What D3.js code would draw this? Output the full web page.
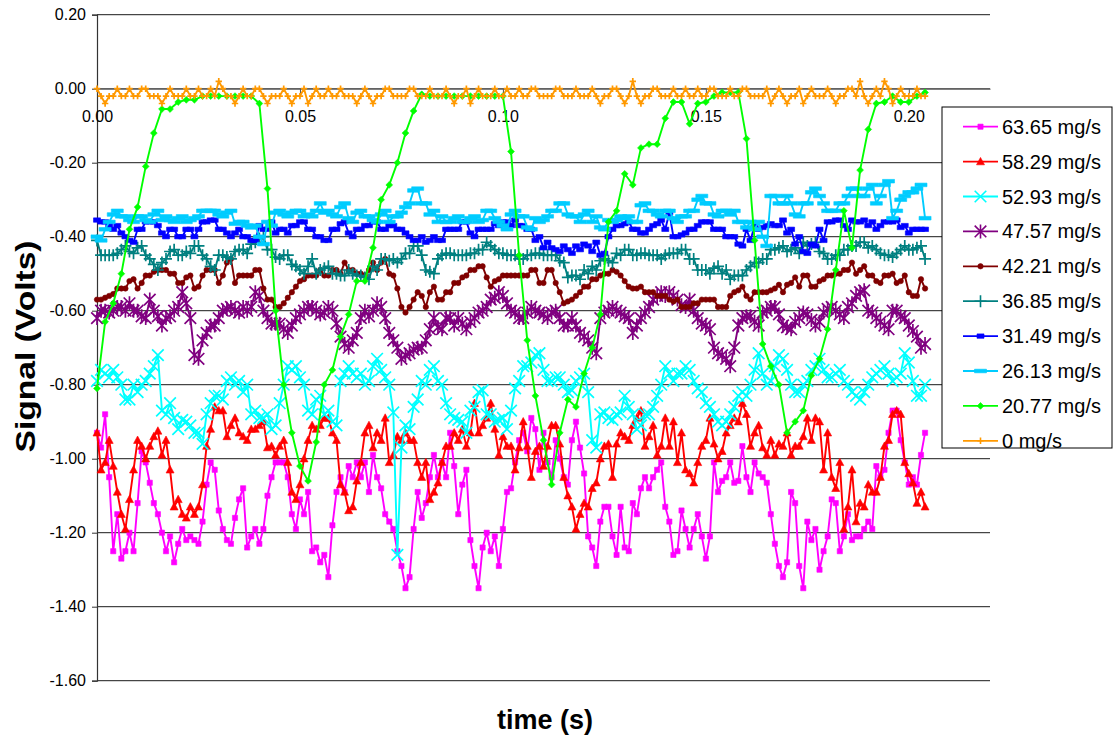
<!DOCTYPE html>
<html>
<head>
<meta charset="utf-8">
<script src="https://cdn.jsdelivr.net/npm/d3@7"></script>
<style>
html,body{margin:0;padding:0;background:#fff;}
svg{display:block;font-family:"Liberation Sans",Arial,sans-serif;}
</style>
</head>
<body>
<svg id="chart" width="1116" height="738"></svg>
<script>
// ---- data ----
const yTicks = [0.2, 0, -0.2, -0.4, -0.6, -0.8, -1.0, -1.2, -1.4, -1.6];
const xTicks = [0, 0.05, 0.10, 0.15, 0.20];
const seriesNames = ["63.65 mg/s","58.29 mg/s","52.93 mg/s","47.57 mg/s","42.21 mg/s","36.85 mg/s","31.49 mg/s","26.13 mg/s","20.77 mg/s","0 mg/s"];
// sampling interval (s) of each series
const seriesSteps = [0.001,0.001,0.001,0.001,0.001,0.001,0.001,0.001,0.002,0.001];

const s6365 = [-0.93,-0.97,-0.88,-1.05,-1.25,-1.15,-1.27,-1.25,-1.20,-1.25,
-1.12,-0.98,-1.01,-1.065,-1.12,-1.15,-1.20,-1.25,-1.21,-1.28,
-1.23,-1.19,-1.22,-1.21,-1.22,-1.23,-1.17,-1.07,-1.01,-1.03,
-1.14,-1.19,-1.22,-1.23,-1.16,-1.11,-1.08,-1.24,-1.21,-1.19,
-1.23,-1.19,-1.10,-1.05,-1.01,-1.01,-1.01,-1.05,-1.15,-1.19,
-1.11,-1.15,-1.09,-1.25,-1.24,-1.28,-1.26,-1.32,-1.18,-1.09,
-1.05,-1.09,-1.02,-1.05,-1.01,-1.05,-1.01,-1.09,-0.99,-1.05,
-1.08,-1.15,-1.17,-1.19,-1.25,-1.29,-1.35,-1.32,-1.19,-1.09,
-1.16,-1.12,-1.05,-0.99,-1.05,-1.01,-1.05,-0.93,-1.02,-1.15,
-1.07,-1.03,-1.22,-1.29,-1.35,-1.24,-1.20,-1.25,-1.21,-1.29,
-1.19,-1.09,-1.08,-1.01,-0.95,-0.93,-0.98,-0.89,-0.92,-1.03,
-0.93,-1.01,-1.05,-0.95,-1.00,-1.05,-1.07,-0.95,-0.90,-0.97,
-1.04,-1.21,-1.24,-1.29,-1.17,-1.13,-1.13,-1.21,-1.26,-1.13,
-1.24,-1.25,-1.12,-1.15,-1.08,-1.05,-1.08,-1.05,-1.03,-1.01,
-1.13,-1.17,-1.26,-1.25,-1.14,-1.19,-1.24,-1.19,-1.15,-1.21,
-1.27,-1.21,-1.01,-1.09,-1.06,-1.05,-1.01,-1.065,-1.06,-0.966,
-1.05,-1.09,-1.01,-1.04,-1.05,-1.065,-1.15,-1.23,-1.29,-1.32,
-1.28,-1.09,-1.12,-1.29,-1.35,-1.17,-1.22,-1.19,-1.30,-1.25,
-1.21,-1.11,-1.12,-1.25,-1.21,-1.15,-1.22,-1.21,-1.21,-1.19,
-1.17,-1.19,-1.02,-1.05,-1.03,-0.93,-0.87,-0.87,-0.95,-1.01,
-1.07,-1.05,-1.07,-0.99,-0.93];
const s5829 = [-0.93,-1.03,-1.01,-0.95,-1.02,-1.09,-1.15,-1.19,-1.11,-1.03,
-0.95,-0.966,-1.00,-0.966,-0.94,-0.925,-0.99,-0.95,-1.03,-1.13,
-1.11,-1.15,-1.16,-1.13,-1.15,-1.13,-1.07,-0.966,-0.92,-0.86,
-0.87,-0.87,-0.94,-0.91,-0.89,-0.93,-0.94,-0.95,-0.92,-0.92,
-0.91,-0.90,-0.97,-0.966,-0.99,-0.966,-0.95,-1.01,-1.09,-1.11,
-1.07,-1.00,-0.95,-0.91,-0.92,-0.91,-0.89,-0.89,-0.93,-0.95,
-1.07,-1.09,-1.14,-1.13,-1.06,-1.01,-0.93,-0.91,-0.97,-0.93,
-0.95,-0.89,-1.01,-0.99,-0.94,-0.95,-0.93,-0.95,-0.95,-1.01,
-1.05,-1.01,-1.11,-1.09,-1.065,-1.01,-0.966,-0.966,-0.93,-0.95,
-0.92,-0.966,-0.93,-0.85,-0.93,-0.91,-0.89,-0.85,-0.92,-0.99,
-0.94,-0.966,-0.966,-1.03,-0.97,-0.90,-0.966,-1.05,-0.98,-0.966,
-1.02,-0.966,-0.91,-0.91,-0.96,-1.05,-1.10,-1.13,-1.19,-1.15,
-1.12,-1.13,-1.08,-1.065,-1.00,-0.966,-0.96,-1.05,-0.96,-0.93,
-0.94,-0.95,-0.91,-0.89,-0.87,-0.966,-0.94,-0.91,-0.99,-0.966,
-0.89,-0.966,-0.90,-1.01,-0.93,-1.03,-1.04,-1.065,-1.01,-0.966,
-0.95,-0.89,-0.96,-1.00,-0.98,-0.93,-0.91,-0.89,-0.90,-0.85,
-0.88,-0.966,-0.93,-0.91,-0.97,-0.99,-0.95,-0.99,-0.96,-0.966,
-0.93,-0.99,-0.966,-0.966,-0.94,-0.89,-0.95,-0.89,-0.90,-1.03,
-0.93,-1.05,-1.08,-1.01,-1.19,-1.13,-1.03,-1.17,-1.12,-1.13,
-1.07,-1.09,-1.09,-1.05,-0.966,-0.95,-0.88,-0.87,-0.88,-1.01,
-1.04,-1.065,-1.12,-1.09,-1.13];
const s5293 = [-0.79,-0.76,-0.77,-0.78,-0.76,-0.78,-0.80,-0.84,-0.84,-0.80,
-0.82,-0.80,-0.79,-0.77,-0.75,-0.72,-0.87,-0.88,-0.85,-0.89,
-0.92,-0.895,-0.90,-0.91,-0.93,-0.93,-0.96,-0.88,-0.85,-0.83,
-0.83,-0.84,-0.79,-0.78,-0.80,-0.79,-0.82,-0.80,-0.88,-0.87,
-0.89,-0.89,-0.88,-0.92,-0.91,-0.85,-0.80,-0.75,-0.76,-0.75,
-0.78,-0.80,-0.87,-0.88,-0.84,-0.83,-0.88,-0.87,-0.90,-0.91,
-0.79,-0.77,-0.75,-0.77,-0.78,-0.77,-0.80,-0.79,-0.75,-0.73,
-0.76,-0.78,-0.80,-0.875,-1.26,-0.97,-0.91,-0.92,-0.86,-0.84,
-0.79,-0.80,-0.76,-0.75,-0.79,-0.80,-0.85,-0.88,-0.89,-0.895,
-0.90,-0.93,-0.87,-0.86,-0.82,-0.815,-0.88,-0.88,-0.90,-0.895,
-0.89,-0.92,-0.87,-0.81,-0.79,-0.75,-0.75,-0.74,-0.72,-0.715,
-0.76,-0.79,-0.79,-0.78,-0.78,-0.80,-0.82,-0.815,-0.79,-0.78,
-0.77,-0.82,-0.95,-0.97,-0.88,-0.875,-0.89,-0.895,-0.88,-0.875,
-0.83,-0.86,-0.88,-0.92,-0.91,-0.88,-0.88,-0.86,-0.83,-0.80,
-0.75,-0.77,-0.79,-0.77,-0.77,-0.75,-0.76,-0.79,-0.81,-0.82,
-0.85,-0.86,-0.88,-0.90,-0.91,-0.90,-0.88,-0.86,-0.83,-0.82,
-0.83,-0.80,-0.76,-0.715,-0.77,-0.80,-0.79,-0.75,-0.72,-0.73,
-0.76,-0.80,-0.82,-0.82,-0.80,-0.79,-0.76,-0.75,-0.73,-0.76,
-0.78,-0.78,-0.77,-0.76,-0.79,-0.80,-0.82,-0.83,-0.84,-0.82,
-0.80,-0.78,-0.77,-0.76,-0.75,-0.77,-0.79,-0.78,-0.77,-0.715,
-0.74,-0.79,-0.83,-0.83,-0.80];
const s4757 = [-0.62,-0.60,-0.60,-0.605,-0.60,-0.59,-0.59,-0.60,-0.58,-0.60,
-0.60,-0.615,-0.62,-0.57,-0.60,-0.615,-0.64,-0.62,-0.615,-0.60,
-0.59,-0.55,-0.58,-0.62,-0.72,-0.73,-0.68,-0.66,-0.64,-0.64,
-0.62,-0.60,-0.595,-0.59,-0.60,-0.605,-0.59,-0.60,-0.59,-0.55,
-0.56,-0.60,-0.62,-0.635,-0.635,-0.635,-0.65,-0.66,-0.64,-0.62,
-0.61,-0.60,-0.59,-0.59,-0.60,-0.61,-0.605,-0.59,-0.60,-0.635,
-0.67,-0.69,-0.70,-0.68,-0.66,-0.62,-0.60,-0.615,-0.60,-0.58,
-0.59,-0.62,-0.66,-0.68,-0.70,-0.73,-0.72,-0.715,-0.705,-0.70,
-0.70,-0.68,-0.65,-0.62,-0.645,-0.65,-0.62,-0.62,-0.64,-0.62,
-0.635,-0.65,-0.63,-0.62,-0.605,-0.60,-0.59,-0.57,-0.565,-0.55,
-0.56,-0.58,-0.60,-0.605,-0.62,-0.62,-0.605,-0.59,-0.60,-0.605,
-0.61,-0.62,-0.605,-0.60,-0.62,-0.64,-0.64,-0.62,-0.64,-0.66,
-0.67,-0.68,-0.70,-0.715,-0.62,-0.605,-0.60,-0.59,-0.60,-0.605,
-0.615,-0.62,-0.66,-0.64,-0.62,-0.605,-0.59,-0.57,-0.56,-0.55,
-0.56,-0.55,-0.56,-0.57,-0.585,-0.59,-0.57,-0.60,-0.62,-0.635,
-0.64,-0.65,-0.70,-0.715,-0.72,-0.73,-0.75,-0.70,-0.64,-0.62,
-0.615,-0.615,-0.63,-0.64,-0.605,-0.60,-0.59,-0.59,-0.61,-0.64,
-0.645,-0.65,-0.63,-0.62,-0.605,-0.61,-0.625,-0.64,-0.63,-0.605,
-0.595,-0.59,-0.60,-0.61,-0.62,-0.59,-0.58,-0.56,-0.55,-0.545,
-0.60,-0.605,-0.62,-0.63,-0.64,-0.65,-0.60,-0.60,-0.615,-0.62,
-0.64,-0.655,-0.67,-0.70,-0.69];
const s4221 = [-0.57,-0.57,-0.565,-0.56,-0.555,-0.54,-0.54,-0.54,-0.52,-0.515,
-0.54,-0.525,-0.505,-0.505,-0.495,-0.49,-0.49,-0.49,-0.50,-0.50,
-0.525,-0.525,-0.51,-0.505,-0.54,-0.535,-0.505,-0.49,-0.49,-0.49,
-0.525,-0.505,-0.47,-0.46,-0.525,-0.505,-0.505,-0.505,-0.505,-0.49,
-0.49,-0.54,-0.57,-0.57,-0.59,-0.59,-0.58,-0.565,-0.55,-0.535,
-0.52,-0.515,-0.505,-0.505,-0.505,-0.49,-0.505,-0.505,-0.49,-0.49,
-0.50,-0.47,-0.49,-0.49,-0.50,-0.50,-0.505,-0.49,-0.47,-0.49,
-0.47,-0.46,-0.50,-0.505,-0.54,-0.59,-0.605,-0.59,-0.57,-0.55,
-0.56,-0.59,-0.55,-0.535,-0.57,-0.57,-0.55,-0.55,-0.525,-0.525,
-0.51,-0.505,-0.49,-0.49,-0.48,-0.48,-0.51,-0.535,-0.52,-0.515,
-0.505,-0.505,-0.505,-0.505,-0.505,-0.505,-0.505,-0.49,-0.49,-0.525,
-0.525,-0.49,-0.49,-0.525,-0.55,-0.58,-0.575,-0.57,-0.56,-0.55,
-0.535,-0.535,-0.515,-0.515,-0.505,-0.50,-0.50,-0.49,-0.495,-0.505,
-0.52,-0.535,-0.54,-0.54,-0.535,-0.55,-0.55,-0.55,-0.56,-0.56,
-0.56,-0.57,-0.575,-0.57,-0.59,-0.59,-0.59,-0.58,-0.58,-0.57,
-0.57,-0.57,-0.57,-0.59,-0.59,-0.59,-0.56,-0.55,-0.545,-0.535,
-0.56,-0.57,-0.55,-0.55,-0.55,-0.55,-0.545,-0.54,-0.53,-0.55,
-0.53,-0.525,-0.51,-0.535,-0.505,-0.505,-0.535,-0.535,-0.52,-0.515,
-0.505,-0.505,-0.50,-0.50,-0.49,-0.49,-0.47,-0.50,-0.49,-0.48,
-0.505,-0.505,-0.52,-0.525,-0.505,-0.505,-0.50,-0.525,-0.52,-0.505,
-0.55,-0.56,-0.56,-0.515,-0.54];
const s3685 = [-0.41,-0.45,-0.45,-0.45,-0.45,-0.445,-0.435,-0.425,-0.44,-0.445,
-0.43,-0.425,-0.45,-0.46,-0.475,-0.49,-0.47,-0.46,-0.44,-0.435,
-0.45,-0.45,-0.44,-0.445,-0.425,-0.425,-0.45,-0.46,-0.48,-0.49,
-0.45,-0.45,-0.455,-0.46,-0.44,-0.435,-0.435,-0.445,-0.42,-0.415,
-0.405,-0.40,-0.435,-0.435,-0.455,-0.46,-0.45,-0.45,-0.475,-0.48,
-0.49,-0.50,-0.48,-0.46,-0.50,-0.49,-0.485,-0.48,-0.50,-0.50,
-0.505,-0.505,-0.49,-0.50,-0.505,-0.505,-0.51,-0.515,-0.48,-0.49,
-0.46,-0.46,-0.465,-0.46,-0.47,-0.46,-0.445,-0.445,-0.425,-0.425,
-0.45,-0.49,-0.495,-0.50,-0.46,-0.45,-0.445,-0.445,-0.45,-0.45,
-0.45,-0.45,-0.445,-0.445,-0.435,-0.435,-0.415,-0.425,-0.435,-0.445,
-0.445,-0.45,-0.45,-0.45,-0.46,-0.46,-0.45,-0.45,-0.445,-0.445,
-0.45,-0.45,-0.45,-0.45,-0.465,-0.47,-0.51,-0.505,-0.505,-0.515,
-0.49,-0.50,-0.48,-0.49,-0.465,-0.46,-0.465,-0.47,-0.445,-0.45,
-0.435,-0.435,-0.45,-0.45,-0.445,-0.445,-0.45,-0.45,-0.45,-0.46,
-0.45,-0.445,-0.445,-0.445,-0.435,-0.435,-0.46,-0.46,-0.49,-0.49,
-0.49,-0.50,-0.485,-0.48,-0.50,-0.49,-0.515,-0.505,-0.505,-0.505,
-0.49,-0.48,-0.47,-0.47,-0.46,-0.46,-0.435,-0.435,-0.43,-0.425,
-0.44,-0.435,-0.43,-0.445,-0.415,-0.425,-0.42,-0.415,-0.44,-0.445,
-0.46,-0.46,-0.45,-0.45,-0.435,-0.435,-0.425,-0.425,-0.415,-0.415,
-0.43,-0.425,-0.435,-0.445,-0.45,-0.45,-0.455,-0.445,-0.435,-0.425,
-0.435,-0.435,-0.43,-0.425,-0.46];
const s3149 = [-0.355,-0.36,-0.36,-0.37,-0.38,-0.37,-0.39,-0.40,-0.41,-0.415,
-0.38,-0.38,-0.36,-0.36,-0.36,-0.37,-0.39,-0.40,-0.38,-0.38,
-0.40,-0.40,-0.38,-0.38,-0.40,-0.38,-0.36,-0.36,-0.355,-0.355,
-0.38,-0.38,-0.39,-0.40,-0.39,-0.38,-0.40,-0.40,-0.41,-0.41,
-0.37,-0.38,-0.38,-0.36,-0.39,-0.38,-0.38,-0.39,-0.37,-0.37,
-0.36,-0.36,-0.38,-0.38,-0.40,-0.40,-0.41,-0.41,-0.38,-0.38,
-0.365,-0.36,-0.39,-0.40,-0.38,-0.38,-0.37,-0.37,-0.36,-0.36,
-0.38,-0.38,-0.37,-0.37,-0.38,-0.38,-0.39,-0.40,-0.41,-0.41,
-0.40,-0.415,-0.41,-0.40,-0.41,-0.41,-0.38,-0.38,-0.38,-0.38,
-0.36,-0.36,-0.39,-0.40,-0.38,-0.38,-0.38,-0.38,-0.365,-0.37,
-0.36,-0.36,-0.37,-0.355,-0.37,-0.37,-0.38,-0.38,-0.41,-0.40,
-0.43,-0.415,-0.43,-0.435,-0.44,-0.425,-0.435,-0.445,-0.425,-0.435,
-0.42,-0.425,-0.44,-0.415,-0.45,-0.445,-0.40,-0.38,-0.37,-0.37,
-0.365,-0.36,-0.38,-0.38,-0.39,-0.39,-0.38,-0.37,-0.365,-0.355,
-0.38,-0.335,-0.40,-0.40,-0.395,-0.39,-0.38,-0.38,-0.37,-0.36,
-0.36,-0.36,-0.38,-0.38,-0.38,-0.40,-0.40,-0.40,-0.42,-0.425,
-0.38,-0.41,-0.37,-0.38,-0.375,-0.37,-0.365,-0.37,-0.37,-0.355,
-0.39,-0.38,-0.42,-0.40,-0.44,-0.445,-0.42,-0.425,-0.38,-0.41,
-0.36,-0.36,-0.355,-0.355,-0.37,-0.38,-0.355,-0.36,-0.36,-0.355,
-0.37,-0.36,-0.38,-0.37,-0.36,-0.36,-0.36,-0.355,-0.375,-0.37,
-0.39,-0.38,-0.38,-0.38,-0.38];
const s2613 = [-0.40,-0.41,-0.38,-0.36,-0.34,-0.33,-0.345,-0.345,-0.355,-0.36,
-0.345,-0.345,-0.355,-0.36,-0.34,-0.33,-0.355,-0.345,-0.355,-0.36,
-0.35,-0.345,-0.36,-0.355,-0.35,-0.345,-0.33,-0.33,-0.33,-0.33,
-0.34,-0.345,-0.335,-0.33,-0.365,-0.36,-0.36,-0.37,-0.375,-0.37,
-0.40,-0.42,-0.36,-0.37,-0.335,-0.33,-0.34,-0.345,-0.335,-0.33,
-0.33,-0.345,-0.34,-0.345,-0.33,-0.31,-0.335,-0.33,-0.34,-0.345,
-0.32,-0.31,-0.35,-0.36,-0.335,-0.33,-0.345,-0.345,-0.355,-0.36,
-0.34,-0.33,-0.36,-0.345,-0.345,-0.335,-0.32,-0.31,-0.275,-0.27,
-0.31,-0.31,-0.34,-0.33,-0.36,-0.345,-0.36,-0.36,-0.35,-0.345,
-0.36,-0.36,-0.35,-0.345,-0.36,-0.355,-0.33,-0.33,-0.35,-0.36,
-0.37,-0.38,-0.34,-0.33,-0.345,-0.345,-0.375,-0.38,-0.35,-0.36,
-0.355,-0.345,-0.33,-0.33,-0.31,-0.31,-0.34,-0.345,-0.345,-0.36,
-0.34,-0.33,-0.36,-0.345,-0.375,-0.38,-0.355,-0.36,-0.355,-0.345,
-0.35,-0.345,-0.36,-0.36,-0.315,-0.31,-0.33,-0.33,-0.34,-0.345,
-0.33,-0.33,-0.35,-0.36,-0.345,-0.345,-0.33,-0.33,-0.30,-0.29,
-0.31,-0.31,-0.34,-0.345,-0.33,-0.33,-0.34,-0.33,-0.36,-0.36,
-0.375,-0.36,-0.38,-0.36,-0.40,-0.425,-0.29,-0.29,-0.31,-0.31,
-0.29,-0.31,-0.34,-0.345,-0.31,-0.31,-0.28,-0.27,-0.29,-0.31,
-0.33,-0.33,-0.33,-0.31,-0.31,-0.29,-0.27,-0.27,-0.29,-0.29,
-0.27,-0.26,-0.31,-0.29,-0.26,-0.25,-0.35,-0.33,-0.30,-0.29,
-0.28,-0.28,-0.27,-0.26,-0.35];
const s2077 = [-0.81,-0.63,-0.58,-0.50,-0.38,-0.32,-0.21,-0.12,-0.055,-0.055,
-0.036,-0.03,-0.03,-0.02,-0.02,-0.02,-0.02,-0.02,-0.02,-0.02,
-0.04,-0.27,-0.60,-0.80,-0.93,-1.02,-1.06,-0.955,-0.80,-0.76,
-0.67,-0.61,-0.52,-0.52,-0.43,-0.30,-0.26,-0.20,-0.12,-0.06,
-0.015,-0.02,-0.02,-0.02,-0.02,-0.02,-0.02,-0.02,-0.02,-0.02,
-0.02,-0.17,-0.45,-0.68,-0.83,-0.95,-1.07,-0.93,-0.84,-0.86,
-0.77,-0.70,-0.61,-0.36,-0.33,-0.23,-0.26,-0.16,-0.15,-0.15,
-0.08,-0.036,-0.036,-0.095,-0.04,-0.036,-0.02,-0.01,-0.01,-0.01,
-0.135,-0.41,-0.69,-0.75,-0.80,-0.93,-0.90,-0.87,-0.775,-0.73,
-0.65,-0.49,-0.33,-0.43,-0.22,-0.11,-0.04,-0.036,-0.02,-0.036,
-0.036,-0.02,-0.01];
const s0 = [0,-0.02,-0.04,-0.02,-0.02,0,-0.02,-0.02,0,-0.02,
-0.02,0,0,-0.02,-0.02,-0.02,-0.04,-0.02,0,-0.02,
-0.02,-0.02,0,-0.02,-0.02,0,-0.02,-0.02,0,-0.02,
0.02,0,-0.02,-0.02,-0.04,-0.02,0,-0.02,-0.02,0,
0,-0.02,-0.04,-0.02,-0.02,-0.02,0,-0.02,-0.04,-0.02,
-0.02,0,-0.04,-0.02,0,-0.02,-0.02,0,-0.02,-0.02,
0,-0.02,-0.02,-0.02,-0.04,-0.02,0,-0.02,-0.04,-0.02,
-0.02,0,0,-0.02,-0.02,-0.02,-0.02,0,0,-0.02,
-0.02,-0.02,0,-0.02,-0.02,-0.02,0,-0.02,-0.04,-0.02,
-0.02,0,-0.04,-0.02,0,-0.02,-0.02,-0.02,0,-0.02,
-0.02,0,-0.02,-0.02,0,-0.02,-0.02,0,0,-0.02,
-0.02,-0.02,-0.02,0,0,-0.02,-0.02,-0.02,0,-0.02,
-0.02,-0.02,0,-0.02,-0.04,-0.02,-0.02,0,0,-0.02,
-0.04,-0.02,0.02,-0.02,-0.04,-0.02,-0.02,0,0,-0.02,
-0.02,-0.02,0,-0.02,-0.02,0,-0.02,-0.02,0,-0.02,
-0.02,0,0,-0.02,-0.02,-0.02,0,-0.02,-0.02,0,
0,-0.02,-0.02,-0.02,-0.02,0,-0.04,-0.02,0,-0.02,
-0.04,-0.02,-0.02,0,-0.04,-0.02,0,-0.02,-0.02,-0.02,
0,-0.02,-0.04,-0.02,-0.02,0,0,-0.02,0.02,-0.02,
-0.04,-0.02,0,-0.02,0.02,0,-0.04,-0.02,0,-0.02,
-0.02,-0.02,0,-0.02,-0.02];

const seriesValues = [s6365,s5829,s5293,s4757,s4221,s3685,s3149,s2613,s2077,s0];

// ---- styles ----
const colors = ["#FF00FF","#FF0000","#00FFFF","#800080","#800000","#008080","#0000FF","#00CCFF","#00FF00","#FF9900"];
const markerTypes = ["square","triangle","x","star","circle","plus","bar","longbar","diamond","smallplus"];
const markerPaths = {
  square:   {d:"M-2.6,-2.6h5.2v5.2h-5.2z", fill:true},
  triangle: {d:"M0,-4.2L4,3.2L-4,3.2Z", fill:true},
  x:        {d:"M-5.8,-5.8L5.8,5.8M-5.8,5.8L5.8,-5.8", fill:false},
  star:     {d:"M-5.8,-5.8L5.8,5.8M-5.8,5.8L5.8,-5.8M0,-7V7", fill:false},
  circle:   {d:"M-2.7,0a2.7,2.7 0 1,0 5.4,0a2.7,2.7 0 1,0 -5.4,0", fill:true},
  plus:     {d:"M-6,0H6M0,-6V6", fill:false},
  bar:      {d:"M-3.5,-2.2h7v4.4h-7z", fill:true},
  longbar:  {d:"M-6,-1.8h12v3.6h-12z", fill:true},
  diamond:  {d:"M0,-3.4L3.4,0L0,3.4L-3.4,0Z", fill:true},
  smallplus:{d:"M-3.2,0H3.2M0,-3.2V3.2", fill:false}
};

const svg = d3.select("#chart");
const x = d3.scaleLinear().domain([0, 0.22]).range([97, 990]);
const y = d3.scaleLinear().domain([-1.6, 0.2]).range([680.7, 14.7]);

// gridlines
svg.append("g").selectAll("line").data(yTicks).join("line")
  .attr("x1", 97).attr("x2", 990)
  .attr("y1", d => y(d)).attr("y2", d => y(d))
  .attr("stroke", "#1a1a1a").attr("stroke-width", 1);

// y axis
const yAxis = svg.append("g").attr("transform", "translate(97,0)")
  .call(d3.axisLeft(y).tickValues(yTicks).tickSize(5).tickFormat(d => d.toFixed(2)));
yAxis.select(".domain").attr("stroke", "#333").attr("stroke-width", 1.2);
yAxis.selectAll(".tick line").attr("stroke", "#333");
yAxis.selectAll(".tick text").attr("font-size", 16).attr("fill", "#000")
  .attr("font-family", "Liberation Sans, Arial, sans-serif").attr("x", -11);

// x axis along y=0
const xAxis = svg.append("g").attr("transform", `translate(0,${y(0)})`)
  .call(d3.axisBottom(x).tickValues(xTicks).tickSize(5).tickSizeOuter(0).tickFormat(d => d.toFixed(2)));
xAxis.select(".domain").attr("stroke", "#808080").attr("stroke-width", 1.6);
xAxis.selectAll(".tick line").attr("stroke", "#555");
xAxis.selectAll(".tick text").attr("font-size", 16).attr("fill", "#000")
  .attr("font-family", "Liberation Sans, Arial, sans-serif").attr("y", 22);

// series (first listed drawn first, last on top)
seriesValues.forEach((vals, k) => {
  const step = seriesSteps[k];
  const line = d3.line().x((d, i) => x(i * step)).y(d => y(d));
  const g = svg.append("g");
  g.append("path").datum(vals).attr("d", line)
    .attr("fill", "none").attr("stroke", colors[k]).attr("stroke-width", 1.9)
    .attr("stroke-linejoin", "round");
  const m = markerPaths[markerTypes[k]];
  g.selectAll("path.mk").data(vals).join("path").attr("class", "mk")
    .attr("d", m.d)
    .attr("transform", (d, i) => `translate(${x(i * step)},${y(d)})`)
    .attr("fill", m.fill ? colors[k] : "none")
    .attr("stroke", colors[k]).attr("stroke-width", m.fill ? 0.6 : 1.7);
});

// legend
const lg = svg.append("g");
lg.append("rect").attr("x", 942).attr("y", 107).attr("width", 170).attr("height", 341)
  .attr("fill", "#fff").attr("stroke", "#000").attr("stroke-width", 1);
seriesNames.forEach((name, k) => {
  const cy = 126.7 + k * 34.9;
  lg.append("line").attr("x1", 963).attr("x2", 998).attr("y1", cy).attr("y2", cy)
    .attr("stroke", colors[k]).attr("stroke-width", 1.8);
  const m = markerPaths[markerTypes[k]];
  lg.append("path").attr("d", m.d).attr("transform", `translate(980.5,${cy})`)
    .attr("fill", m.fill ? colors[k] : "none").attr("stroke", colors[k])
    .attr("stroke-width", m.fill ? 0.6 : 1.6);
  lg.append("text").attr("x", 1002).attr("y", cy + 7).attr("font-size", 20)
    .attr("fill", "#000").text(name);
});

// axis titles
svg.append("text").attr("transform", "translate(35,346.5) rotate(-90)")
  .attr("text-anchor", "middle").attr("font-size", 27).attr("font-weight", "bold")
  .attr("textLength", 212).attr("lengthAdjust", "spacingAndGlyphs")
  .text("Signal (Volts)");
svg.append("text").attr("x", 545).attr("y", 729).attr("text-anchor", "middle")
  .attr("font-size", 27).attr("font-weight", "bold").text("time (s)");
</script>
</body>
</html>
